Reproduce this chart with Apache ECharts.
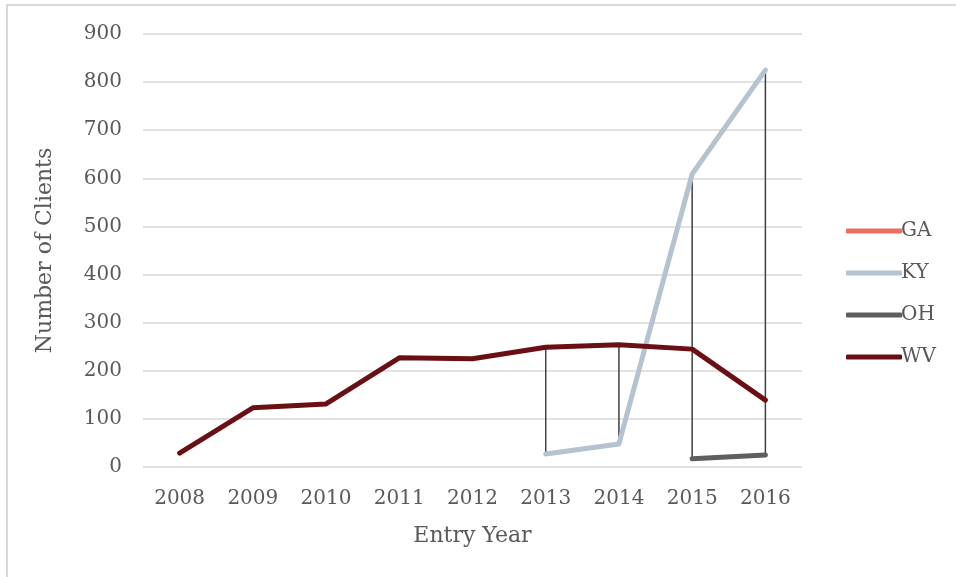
<!DOCTYPE html>
<html>
<head>
<meta charset="utf-8">
<script src="https://cdn.jsdelivr.net/npm/echarts@6/dist/echarts.min.js"></script>
<style>
  html, body { margin: 0; padding: 0; background: #fff; overflow: hidden; }
  #frame { position: absolute; left: 6px; top: 4px; width: 960px; height: 580px;
           border-top: 2px solid #d9d9d9; border-left: 2px solid #d9d9d9; box-sizing: border-box; }
  #chart { position: absolute; left: 0; top: 0; width: 956px; height: 577px; }
</style>
</head>
<body>
<div id="frame"></div>
<div id="chart"></div>
<script>
// Entry years on the category axis
const years = ['2008', '2009', '2010', '2011', '2012', '2013', '2014', '2015', '2016'];
// Clients per state by entry year (null = no clients that year)
const gaClients = [null, null, null, null, null, null, null, null, null];
const kyClients = [null, null, null, null, null, 27, 48, 609, 825];
const ohClients = [null, null, null, null, null, null, null, 17, 25];
const wvClients = [29, 123, 131, 227, 225, 249, 254, 245, 139];
// Value axis ticks
const yTicks = [0, 100, 200, 300, 400, 500, 600, 700, 800, 900];

const seriesDefs = [
  { name: 'GA', data: gaClients, color: '#e8705e' },
  { name: 'KY', data: kyClients, color: '#b5c3d0' },
  { name: 'OH', data: ohClients, color: '#5f5f5f' },
  { name: 'WV', data: wvClients, color: '#6a1014' }
];

// High-low lines: for each year with two or more states, span min..max
const highLow = years.map((y, i) => {
  const vals = seriesDefs.map(s => s.data[i]).filter(v => v !== null && v !== undefined);
  if (vals.length < 2) return null;
  return [i, Math.min(...vals), Math.max(...vals)];
}).filter(d => d !== null);

const FONT = '"DejaVu Serif", "Liberation Serif", serif';
const TEXT = '#595959';

const chart = echarts.init(document.getElementById('chart'), null, { renderer: 'canvas' });
chart.setOption({
  animation: false,
  textStyle: { fontFamily: FONT },
  grid: { left: 143, right: 154, top: 34, bottom: 110, containLabel: false },
  legend: {
    orient: 'vertical',
    left: 841,
    top: 216,
    itemGap: 22,
    itemWidth: 56,
    itemHeight: 5,
    icon: 'roundRect',
    textStyle: { fontFamily: FONT, fontSize: 20, color: TEXT, padding: [0, 0, 0, -6] },
    data: seriesDefs.map(s => ({ name: s.name, itemStyle: { color: s.color } }))
  },
  xAxis: {
    type: 'category',
    data: years,
    boundaryGap: true,
    name: 'Entry Year',
    nameLocation: 'middle',
    nameGap: 58,
    nameTextStyle: { fontFamily: FONT, fontSize: 22, color: TEXT },
    axisLine: { show: false },
    axisTick: { show: false },
    axisLabel: { fontFamily: FONT, fontSize: 20, color: TEXT, margin: 22 }
  },
  yAxis: {
    type: 'value',
    min: yTicks[0],
    max: yTicks[yTicks.length - 1],
    interval: yTicks[1] - yTicks[0],
    name: 'Number of Clients',
    nameLocation: 'middle',
    nameGap: 87,
    nameTextStyle: { fontFamily: FONT, fontSize: 22, color: TEXT },
    axisLine: { show: false },
    axisTick: { show: false },
    axisLabel: { fontFamily: FONT, fontSize: 20, color: TEXT, margin: 21 },
    splitLine: { lineStyle: { color: '#d9d9d9', width: 1.5 } }
  },
  series: [
    {
      type: 'custom',
      name: 'highlow',
      silent: true,
      z: 1,
      data: highLow,
      encode: { x: 0, y: [1, 2] },
      renderItem: function (params, api) {
        const lo = api.coord([api.value(0), api.value(1)]);
        const hi = api.coord([api.value(0), api.value(2)]);
        return {
          type: 'line',
          shape: { x1: lo[0], y1: lo[1], x2: hi[0], y2: hi[1] },
          style: { stroke: '#404040', lineWidth: 1.5 }
        };
      }
    }
  ].concat(seriesDefs.map(s => ({
    type: 'line',
    name: s.name,
    data: s.data,
    z: 3,
    showSymbol: false,
    symbol: 'none',
    connectNulls: false,
    color: s.color,
    lineStyle: { color: s.color, width: 5, cap: 'round', join: 'round' }
  })))
});
</script>
</body>
</html>
